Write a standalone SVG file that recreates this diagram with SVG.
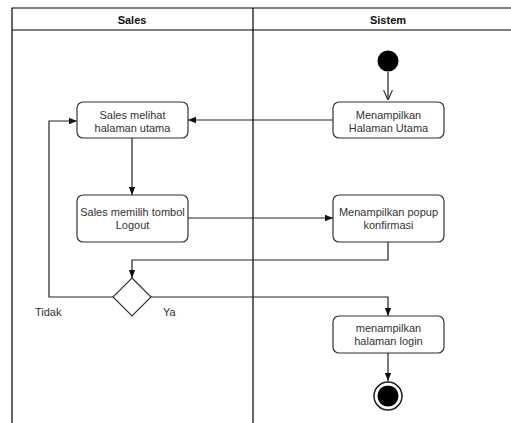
<svg xmlns="http://www.w3.org/2000/svg" width="511" height="423" viewBox="0 0 511 423">
<defs>
<style>
.lane{fill:none;stroke:#000;stroke-width:1.2}
.node{fill:#fff;stroke:#333;stroke-width:1.2}
.t{font-family:"Liberation Sans",Arial,sans-serif;font-size:11px;fill:#333;text-anchor:middle}
.h{font-family:"Liberation Sans",Arial,sans-serif;font-size:11px;font-weight:bold;fill:#111;text-anchor:middle}
.lbl{font-family:"Liberation Sans",Arial,sans-serif;font-size:11px;fill:#333}
.c{fill:none;stroke:#222;stroke-width:1.2}
</style>
<marker id="fa" viewBox="0 0 10 10" refX="10" refY="5" markerWidth="8" markerHeight="8" orient="auto" markerUnits="userSpaceOnUse">
<path d="M0,1 L10,5 L0,9 Z" fill="#111"/>
</marker>
<marker id="oa" viewBox="0 0 10 10" refX="10" refY="5" markerWidth="10" markerHeight="10" orient="auto" markerUnits="userSpaceOnUse">
<path d="M0,0.5 L10,5 L0,9.5" fill="none" stroke="#333" stroke-width="1.2"/>
</marker>
</defs>
<rect width="511" height="423" fill="#fff"/>
<g id="lanes">
<path class="lane" d="M12,423 V8 H511 M12,30 H511 M253,8 V423"/>
<text class="h" x="132" y="24">Sales</text>
<text class="h" x="388" y="24">Sistem</text>
</g>
<g id="connectors">
<path class="c" d="M388,72 V100" marker-end="url(#oa)"/>
<path class="c" d="M333,120 H188" marker-end="url(#fa)"/>
<path class="c" d="M132,138 V195" marker-end="url(#fa)"/>
<path class="c" d="M188,218 H333" marker-end="url(#fa)"/>
<path class="c" d="M388,242 V260 H132 V278" marker-end="url(#fa)"/>
<path class="c" d="M113,297 H49 V121 H77" marker-end="url(#fa)"/>
<path class="c" d="M151,297 H388 V316" marker-end="url(#fa)"/>
<path class="c" d="M388,353 V381" marker-end="url(#fa)"/>
<text class="lbl" x="35" y="316">Tidak</text>
<text class="lbl" x="163" y="316">Ya</text>
</g>
<g id="start">
<circle cx="388" cy="61" r="10.5" fill="#000"/>
</g>
<g id="menampilkan-halaman-utama">
<rect class="node" x="333" y="102" width="111" height="36" rx="6"/>
<text class="t" x="388.5" y="118.5">Menampilkan</text>
<text class="t" x="388.5" y="131.5">Halaman Utama</text>
</g>
<g id="sales-melihat">
<rect class="node" x="77" y="102" width="111" height="36" rx="6"/>
<text class="t" x="132.5" y="118.5">Sales melihat</text>
<text class="t" x="132.5" y="131.5">halaman utama</text>
</g>
<g id="sales-memilih">
<rect class="node" x="77" y="195" width="111" height="47" rx="6"/>
<text class="t" x="132.5" y="216">Sales memilih tombol</text>
<text class="t" x="132.5" y="229">Logout</text>
</g>
<g id="popup">
<rect class="node" x="333" y="195" width="111" height="47" rx="6"/>
<text class="t" x="388.5" y="216">Menampilkan popup</text>
<text class="t" x="388.5" y="229">konfirmasi</text>
</g>
<g id="decision">
<path class="node" d="M132,278 L151,297 L132,316 L113,297 Z"/>
</g>
<g id="halaman-login">
<rect class="node" x="333" y="316" width="111" height="37" rx="6"/>
<text class="t" x="388.5" y="332">menampilkan</text>
<text class="t" x="388.5" y="345">halaman login</text>
</g>
<g id="end">
<circle cx="388" cy="396" r="14" fill="#fff" stroke="#222" stroke-width="1.5"/>
<circle cx="388" cy="396" r="10.5" fill="#000"/>
</g>
</svg>
